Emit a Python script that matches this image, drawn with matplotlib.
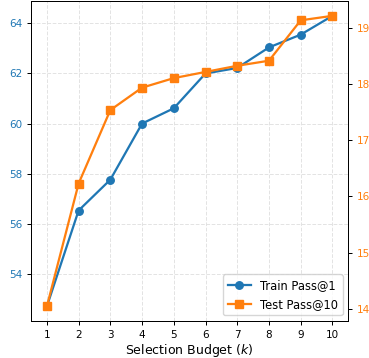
import matplotlib
matplotlib.use("Agg")
import matplotlib.pyplot as plt

k = [1, 2, 3, 4, 5, 6, 7, 8, 9, 10]
train_pass1 = [52.7, 56.53, 57.76, 60.0, 60.61, 62.0, 62.22, 63.04, 63.55, 64.3]
test_pass10 = [14.04, 16.23, 17.54, 17.94, 18.11, 18.22, 18.33, 18.42, 19.14, 19.22]

s = 0.9
fig = plt.figure(figsize=(3.69, 3.58), dpi=100)
ax = fig.add_axes([31/369, 1 - 321/358, (348.3 - 31)/369, (321 - 1.3)/358])
ax2 = ax.twinx()

l1, = ax.plot(k, train_pass1, color="C0", marker="o", markersize=6*s, linewidth=1.8*s, label="Train Pass@1")
l2, = ax2.plot(k, test_pass10, color="C1", marker="s", markersize=6*s, linewidth=1.8*s, label="Test Pass@10")

ax.set_xlim(0.5, 10.5)
ax.set_xticks(k)
ax.set_yticks([54, 56, 58, 60, 62, 64])
ax2.set_yticks([14, 15, 16, 17, 18, 19])
for a in (ax, ax2):
    a.tick_params(axis="both", labelsize=7.5, width=0.8*s, length=3.5*s, pad=3.5*s)
    for sp in a.spines.values():
        sp.set_linewidth(0.8*s)
ax.tick_params(axis="y", labelcolor="C0")
ax2.tick_params(axis="y", labelcolor="C1")
ax.set_xlabel("Selection Budget ($k$)", fontsize=9, labelpad=1.5)

ax.grid(True, linestyle="--", color="#dddddd", linewidth=0.8*s, alpha=0.8)
ax.set_axisbelow(True)

ax2.legend([l1, l2], ["Train Pass@1", "Test Pass@10"], loc="lower right", fontsize=8.3)

fig.savefig("out.png", dpi=100)
